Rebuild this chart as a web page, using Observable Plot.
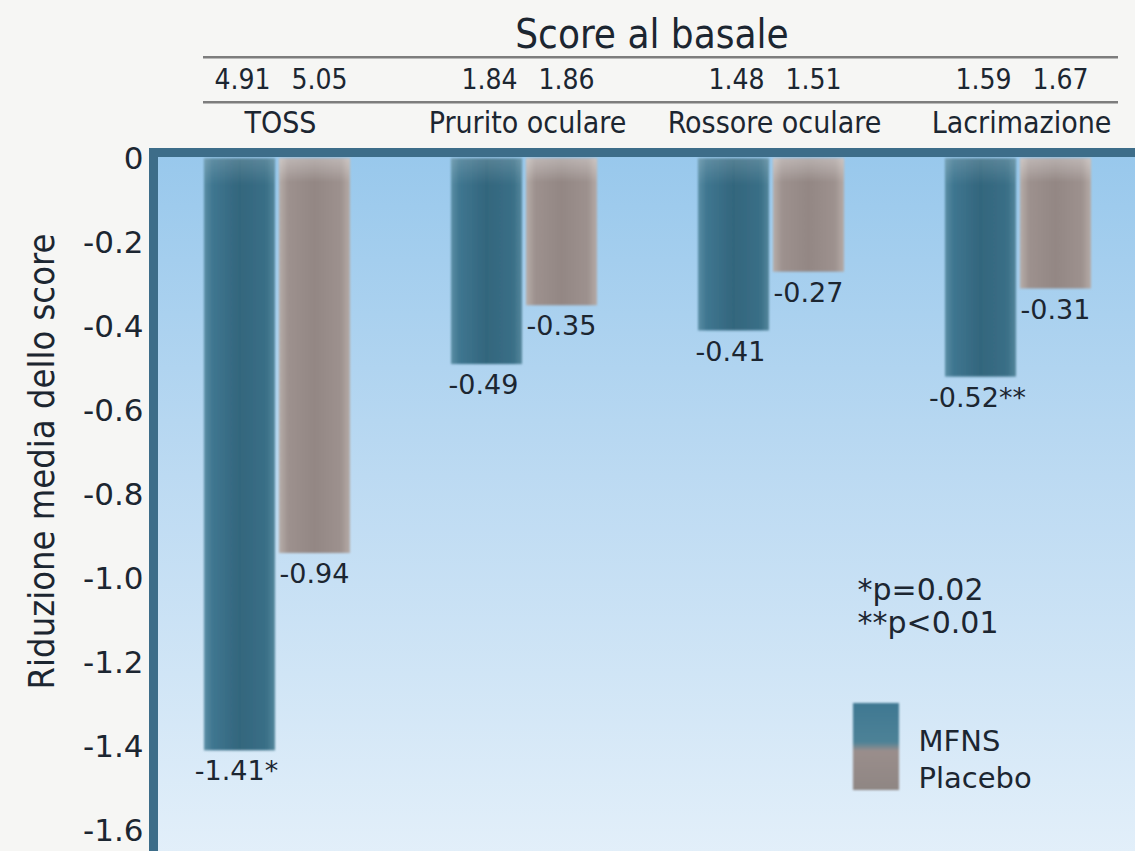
<!DOCTYPE html>
<html>
<head>
<meta charset="utf-8">
<script src="https://cdn.jsdelivr.net/npm/d3@7"></script>
<script src="https://cdn.jsdelivr.net/npm/@observablehq/plot@0.6"></script>
<style>
  html, body { margin: 0; padding: 0; background: #f6f6f4; overflow: hidden; }
  #wrap { position: relative; width: 1135px; height: 851px; overflow: hidden; background: #f6f6f4; }
  #wrap svg { position: absolute; left: 0; top: 0; max-width: none !important; }
  #swatch { position: absolute; left: 853px; top: 703px; width: 46px; height: 87px;
            background: linear-gradient(to bottom, #3f7892 0%, #4d8297 45%, #9a8e8c 55%, #8f8683 100%);
            filter: blur(1.2px); }
</style>
</head>
<body>
<div id="wrap"><div id="swatch"></div></div>
<script>
// ---- data ----
const categories = ["TOSS", "Prurito oculare", "Rossore oculare", "Lacrimazione"];
const series = ["MFNS", "Placebo"];
const mfnsValues = [-1.41, -0.49, -0.41, -0.52];
const placeboValues = [-0.94, -0.35, -0.27, -0.31];
const mfnsLabels = ["-1.41*", "-0.49", "-0.41", "-0.52**"];
const placeboLabels = ["-0.94", "-0.35", "-0.27", "-0.31"];
const mfnsBaseline = ["4.91", "1.84", "1.48", "1.59"];
const placeboBaseline = ["5.05", "1.86", "1.51", "1.67"];
const yTicks = [0, -0.2, -0.4, -0.6, -0.8, -1.0, -1.2, -1.4, -1.6];
const footnotes = ["*p=0.02", "**p<0.01"];
const title = "Score al basale";
const yLabel = "Riduzione media dello score";

// ---- table built from arrays ----
const mfnsRows = categories.map((c, i) => ({category: c, series: series[0], value: mfnsValues[i], label: mfnsLabels[i], baseline: mfnsBaseline[i]}));
const placeboRows = categories.map((c, i) => ({category: c, series: series[1], value: placeboValues[i], label: placeboLabels[i], baseline: placeboBaseline[i]}));

const COND = "DejaVu Sans Condensed";
const SANS = "DejaVu Sans";
const INK = "#1c2631";

const chart = Plot.plot({
  width: 1150,
  height: 870,
  marginTop: 152,
  marginLeft: 153,
  marginRight: 0,
  marginBottom: 0,
  style: {fontFamily: SANS, background: "transparent", color: INK, overflow: "visible", maxWidth: "none"},
  x: {type: "band", domain: categories, range: [202, 1092.3], paddingInner: 0.41, paddingOuter: 0, axis: null},
  y: {domain: [-1.695, 0.015]},
  marks: [
    Plot.frame({fill: "url(#bgGrad)"}),
    // bars
    Plot.barY(mfnsRows, {x: "category", y: "value", fill: "url(#mfnsGrad)", insetRight: 75}),
    Plot.barY(placeboRows, {x: "category", y: "value", fill: "url(#placeboGrad)", insetLeft: 75}),
    Plot.barY(mfnsRows, {x: "category", y: "value", fill: "url(#topBevelM)", insetRight: 75}),
    Plot.barY(placeboRows, {x: "category", y: "value", fill: "url(#topBevelP)", insetLeft: 75}),
    Plot.frame({stroke: "#3d6d89", strokeWidth: 9}),
    // y axis
    Plot.axisY({ticks: yTicks, tickFormat: d => d === 0 ? "0" : d.toFixed(1), tickSize: 0, tickPadding: 10,
                fontSize: 31, fontFamily: SANS, label: null, fill: INK}),
    Plot.text([yLabel], {frameAnchor: "left", textAnchor: "middle", lineAnchor: "middle", rotate: -90, dx: -111, dy: -50,
                         fontSize: 36, fontFamily: COND, fill: INK}),
    // value labels
    Plot.text(mfnsRows, {x: "category", y: "value", text: "label", dx: -41, dy: 21, fontSize: 27, fontFamily: SANS, fill: INK}),
    Plot.text(placeboRows, {x: "category", y: "value", text: "label", dx: 37, dy: 21, fontSize: 27, fontFamily: SANS, fill: INK}),
    // header
    Plot.text([title], {frameAnchor: "top", dy: -105, lineAnchor: "bottom", fontSize: 40, fontFamily: COND, fill: INK}),
    Plot.ruleY([0], {dy: -101.6, insetLeft: 50, insetRight: 32, stroke: "#7d7d7d", strokeWidth: 2.5}),
    Plot.ruleY([0], {dy: -56.6, insetLeft: 50, insetRight: 32, stroke: "#7d7d7d", strokeWidth: 2.5}),
    Plot.text(mfnsRows, {x: "category", text: "baseline", frameAnchor: "top", lineAnchor: "middle", dy: -72, dx: -35,
                         fontSize: 28, fontFamily: COND, fill: INK}),
    Plot.text(placeboRows, {x: "category", text: "baseline", frameAnchor: "top", lineAnchor: "middle", dy: -72, dx: 42,
                            fontSize: 28, fontFamily: COND, fill: INK}),
    Plot.text(categories, {x: d => d, frameAnchor: "top", lineAnchor: "middle", dy: -29, dx: 3, fontSize: 30, fontFamily: COND, fill: INK}),
    // footnotes & legend labels
    Plot.text([footnotes.join("\n")], {frameAnchor: "top-left", dx: 704, dy: 424, textAnchor: "start", lineAnchor: "top",
                                      lineHeight: 1.1, fontSize: 30, fontFamily: SANS, fill: INK}),
    Plot.text([series.join("\n")], {frameAnchor: "top-left", dx: 765, dy: 572, textAnchor: "start", lineAnchor: "top",
                                   lineHeight: 1.28, fontSize: 29, fontFamily: SANS, fill: INK})
  ]
});

const svgEl = chart.tagName.toLowerCase() === "svg" ? chart : chart.querySelector("svg");
svgEl.style.maxWidth = "none";
svgEl.insertAdjacentHTML("afterbegin", `
<defs>
  <linearGradient id="bgGrad" x1="0" y1="0" x2="0" y2="1">
    <stop offset="0" stop-color="#98c8ec"/>
    <stop offset="0.45" stop-color="#bcdaf2"/>
    <stop offset="1" stop-color="#e4f0fa"/>
  </linearGradient>
  <linearGradient id="mfnsGrad" x1="0" y1="0" x2="1" y2="0">
    <stop offset="0" stop-color="#5b8ea5"/>
    <stop offset="0.12" stop-color="#3f7690"/>
    <stop offset="0.5" stop-color="#33667d"/>
    <stop offset="0.88" stop-color="#3a6f87"/>
    <stop offset="1" stop-color="#55879c"/>
  </linearGradient>
  <linearGradient id="placeboGrad" x1="0" y1="0" x2="1" y2="0">
    <stop offset="0" stop-color="#b7aeaa"/>
    <stop offset="0.13" stop-color="#9d918e"/>
    <stop offset="0.5" stop-color="#938784"/>
    <stop offset="0.87" stop-color="#9d918e"/>
    <stop offset="1" stop-color="#b5aba7"/>
  </linearGradient>
  <linearGradient id="topBevelM" gradientUnits="userSpaceOnUse" x1="0" y1="157" x2="0" y2="185">
    <stop offset="0" stop-color="#ffffff" stop-opacity="0.18"/>
    <stop offset="1" stop-color="#ffffff" stop-opacity="0"/>
  </linearGradient>
  <linearGradient id="topBevelP" gradientUnits="userSpaceOnUse" x1="0" y1="157" x2="0" y2="182">
    <stop offset="0" stop-color="#ffffff" stop-opacity="0.35"/>
    <stop offset="0.6" stop-color="#ffffff" stop-opacity="0.15"/>
    <stop offset="1" stop-color="#ffffff" stop-opacity="0"/>
  </linearGradient>
  <filter id="soft" x="-10%" y="-5%" width="120%" height="110%">
    <feGaussianBlur stdDeviation="1.2"/>
  </filter>
</defs>`);
svgEl.querySelectorAll('g[aria-label="bar"]').forEach(g => g.setAttribute("filter", "url(#soft)"));

document.getElementById("wrap").insertBefore(chart, document.getElementById("swatch"));
</script>
</body>
</html>
